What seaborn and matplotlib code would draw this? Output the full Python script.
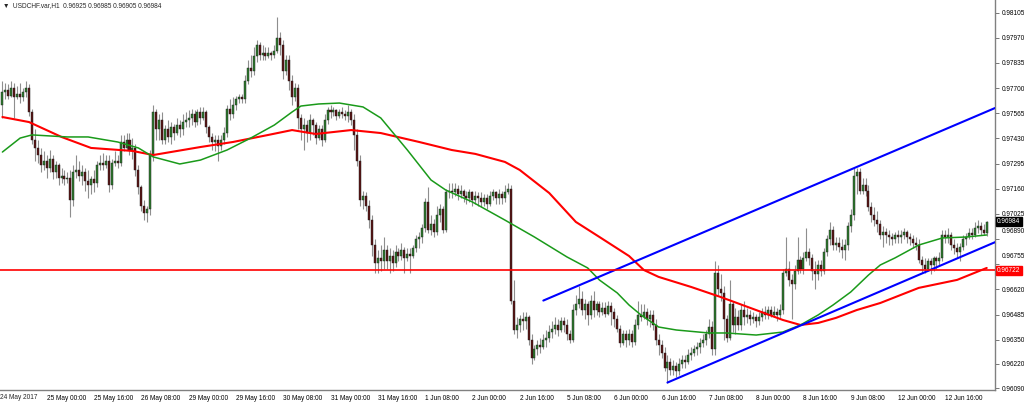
import numpy as np
import pandas as pd
import matplotlib
matplotlib.use("Agg")
import matplotlib.pyplot as plt
import matplotlib.transforms as mtransforms
import seaborn as sns

# USDCHF H1 candles, 24 May 2017 09:00 -> 13 Jun 06:00 (one entry per bar)
# prices are written in pips (price x 10 000)
open_pips = [
    9761, 9768, 9769, 9766, 9770, 9765, 9767, 9765, 9768, 9770,
    9757, 9742, 9738, 9734, 9729, 9731, 9727, 9732, 9725, 9729,
    9722, 9723, 9721, 9722, 9710, 9725, 9726, 9723, 9725, 9720,
    9718, 9721, 9719, 9729, 9730, 9729, 9731, 9718, 9730, 9731,
    9730, 9741, 9738, 9742, 9737, 9738, 9726, 9717, 9707, 9703,
    9705, 9734, 9757, 9748, 9753, 9742, 9748, 9744, 9749, 9746,
    9750, 9748, 9752, 9753, 9754, 9756, 9752, 9757, 9754, 9757,
    9749, 9744, 9741, 9742, 9739, 9742, 9746, 9759, 9756, 9761,
    9764, 9765, 9764, 9774, 9781, 9779, 9787, 9793, 9788, 9789,
    9787, 9789, 9788, 9790, 9797, 9793, 9779, 9785, 9774, 9765,
    9770, 9754, 9748, 9750, 9746, 9753, 9750, 9743, 9748, 9742,
    9753, 9758, 9757, 9758, 9755, 9757, 9756, 9755, 9757, 9753,
    9745, 9731, 9710, 9712, 9707, 9699, 9686, 9676, 9679, 9677,
    9683, 9677, 9680, 9676, 9682, 9680, 9683, 9679, 9681, 9680,
    9684, 9689, 9690, 9695, 9709, 9694, 9697, 9693, 9702, 9705,
    9694, 9714, 9715, 9714, 9716, 9713, 9715, 9712, 9711, 9714,
    9710, 9712, 9711, 9709, 9711, 9708, 9712, 9714, 9711, 9713,
    9711, 9714, 9716, 9656, 9640, 9643, 9646, 9645, 9647, 9635,
    9625, 9630, 9632, 9631, 9635, 9636, 9639, 9641, 9643, 9640,
    9645, 9643, 9638, 9635, 9651, 9654, 9657, 9651, 9654, 9648,
    9656, 9651, 9654, 9650, 9652, 9649, 9653, 9650, 9646, 9641,
    9633, 9638, 9635, 9638, 9634, 9643, 9648, 9647, 9650, 9646,
    9648, 9643, 9635, 9632, 9628, 9620, 9623, 9619, 9621, 9618,
    9622, 9624, 9623, 9627, 9628, 9630, 9631, 9633, 9635, 9638,
    9642, 9630, 9671, 9662, 9660, 9646, 9636, 9654, 9643, 9647,
    9643, 9651, 9647, 9648, 9646, 9647, 9645, 9647, 9650, 9648,
    9651, 9648, 9650, 9648, 9651, 9671, 9673, 9667, 9665, 9672,
    9678, 9673, 9679, 9682, 9679, 9672, 9670, 9675, 9672, 9682,
    9689, 9694, 9686, 9687, 9685, 9683, 9686, 9696, 9702, 9723,
    9725, 9715, 9718, 9715, 9706, 9702, 9699, 9697, 9691, 9693,
    9691, 9690, 9689, 9691, 9690, 9691, 9693, 9690, 9689, 9687,
    9686, 9678, 9675, 9673, 9677, 9675, 9679, 9677, 9679, 9691,
    9690, 9691, 9686, 9684, 9682, 9685, 9689, 9690, 9692, 9691,
    9695, 9696, 9694, 9692.5,
]
high_pips = [
    9774, 9773, 9772, 9774, 9773, 9771, 9773, 9770, 9774, 9772,
    9759, 9748, 9742, 9738, 9736, 9734, 9737, 9734, 9731, 9730,
    9727, 9726, 9725, 9726, 9729, 9734, 9731, 9729, 9727, 9726,
    9723, 9726, 9731, 9734, 9735, 9734, 9734, 9732, 9736, 9734,
    9745, 9745, 9746, 9746, 9743, 9740, 9729, 9718, 9710, 9707,
    9737, 9761, 9759, 9756, 9757, 9750, 9753, 9752, 9751, 9754,
    9753, 9756, 9757, 9758, 9759, 9758, 9759, 9760, 9760, 9758,
    9750, 9746, 9745, 9745, 9745, 9749, 9761, 9764, 9765, 9766,
    9767, 9767, 9777, 9785, 9788, 9792, 9796, 9795, 9793, 9792,
    9792, 9790, 9793, 9808, 9800, 9796, 9788, 9788, 9777, 9773,
    9772, 9756, 9754, 9753, 9756, 9754, 9752, 9750, 9750, 9756,
    9760, 9761, 9760, 9759, 9759, 9760, 9758, 9761, 9759, 9756,
    9748, 9734, 9715, 9714, 9710, 9702, 9689, 9683, 9686, 9690,
    9686, 9684, 9683, 9686, 9684, 9687, 9685, 9684, 9684, 9686,
    9691, 9693, 9697, 9711, 9717, 9702, 9700, 9707, 9708, 9707,
    9716, 9719, 9719, 9719, 9718, 9718, 9716, 9715, 9716, 9715,
    9715, 9714, 9714, 9713, 9713, 9715, 9716, 9715, 9716, 9715,
    9718, 9719, 9718, 9667, 9647, 9648, 9650, 9650, 9648, 9638,
    9632, 9635, 9636, 9638, 9640, 9643, 9645, 9647, 9646, 9647,
    9647, 9646, 9640, 9654, 9659, 9664, 9661, 9657, 9656, 9659,
    9661, 9656, 9656, 9655, 9655, 9656, 9655, 9652, 9648, 9643,
    9640, 9640, 9641, 9640, 9646, 9656, 9654, 9654, 9652, 9651,
    9651, 9646, 9638, 9635, 9631, 9627, 9625, 9624, 9623, 9625,
    9627, 9627, 9630, 9631, 9632, 9634, 9636, 9638, 9640, 9646,
    9645, 9677, 9675, 9670, 9664, 9648, 9667, 9656, 9652, 9651,
    9654, 9656, 9652, 9651, 9650, 9649, 9650, 9652, 9653, 9653,
    9653, 9653, 9652, 9654, 9673, 9690, 9677, 9670, 9675, 9690,
    9680, 9682, 9695, 9684, 9681, 9677, 9678, 9678, 9684, 9691,
    9698, 9696, 9690, 9690, 9689, 9689, 9698, 9705, 9727, 9727,
    9727, 9722, 9722, 9718, 9709, 9706, 9704, 9699, 9696, 9695,
    9694, 9692, 9693, 9694, 9694, 9695, 9694, 9692, 9691, 9690,
    9689, 9680, 9679, 9679, 9679, 9680, 9680, 9682, 9694, 9694,
    9695, 9693, 9689, 9687, 9687, 9691, 9692, 9695, 9695, 9698,
    9699, 9698, 9697, 9698.5,
]
low_pips = [
    9754, 9764, 9764, 9765, 9754, 9764, 9762, 9763, 9765, 9755,
    9740, 9731, 9730, 9725, 9726, 9722, 9725, 9721, 9722, 9718,
    9719, 9718, 9719, 9701, 9707, 9722, 9720, 9718, 9715, 9711,
    9713, 9714, 9717, 9726, 9726, 9727, 9714, 9716, 9728, 9727,
    9728, 9736, 9737, 9734, 9732, 9723, 9713, 9704, 9699, 9698,
    9702, 9731, 9742, 9742, 9740, 9740, 9741, 9740, 9742, 9745,
    9744, 9745, 9749, 9749, 9750, 9749, 9750, 9751, 9753, 9746,
    9741, 9737, 9736, 9731, 9737, 9740, 9744, 9753, 9754, 9758,
    9762, 9762, 9762, 9772, 9776, 9777, 9784, 9785, 9785, 9785,
    9786, 9785, 9786, 9789, 9788, 9775, 9777, 9769, 9761, 9763,
    9748, 9742, 9737, 9741, 9742, 9745, 9740, 9742, 9739, 9741,
    9751, 9754, 9755, 9753, 9754, 9754, 9753, 9752, 9750, 9737,
    9728, 9707, 9705, 9704, 9695, 9680, 9671, 9671, 9672, 9673,
    9673, 9671, 9672, 9674, 9677, 9678, 9671, 9677, 9671, 9679,
    9682, 9684, 9687, 9693, 9692, 9691, 9690, 9691, 9698, 9692,
    9693, 9711, 9711, 9712, 9710, 9711, 9709, 9708, 9709, 9707,
    9708, 9707, 9706, 9707, 9705, 9707, 9710, 9708, 9708, 9708,
    9709, 9713, 9654, 9638, 9636, 9639, 9640, 9641, 9632, 9622,
    9624, 9627, 9628, 9630, 9631, 9634, 9636, 9638, 9637, 9639,
    9639, 9635, 9633, 9634, 9648, 9652, 9648, 9646, 9643, 9646,
    9647, 9648, 9647, 9648, 9647, 9648, 9643, 9642, 9639, 9631,
    9632, 9631, 9632, 9631, 9632, 9641, 9645, 9646, 9643, 9642,
    9640, 9632, 9627, 9625, 9618, 9612, 9616, 9616, 9615, 9616,
    9620, 9620, 9622, 9624, 9626, 9627, 9628, 9631, 9632, 9636,
    9627, 9627, 9659, 9656, 9635, 9634, 9635, 9639, 9638, 9640,
    9640, 9643, 9644, 9643, 9644, 9642, 9643, 9645, 9646, 9646,
    9647, 9647, 9645, 9646, 9649, 9669, 9664, 9646, 9662, 9670,
    9671, 9670, 9677, 9675, 9667, 9662, 9667, 9669, 9670, 9680,
    9686, 9683, 9683, 9682, 9679, 9678, 9683, 9693, 9699, 9713,
    9713, 9713, 9712, 9704, 9698, 9696, 9693, 9689, 9685, 9687,
    9686, 9686, 9687, 9687, 9687, 9689, 9687, 9686, 9684, 9683,
    9676, 9671, 9671, 9672, 9670, 9672, 9673, 9675, 9677, 9687,
    9687, 9683, 9681, 9679, 9677, 9683, 9686, 9689, 9689, 9690,
    9692, 9691, 9691, 9690.5,
]
close_pips = [
    9768, 9769, 9766, 9770, 9765, 9767, 9765, 9768, 9770, 9757,
    9742, 9738, 9734, 9729, 9731, 9727, 9732, 9725, 9729, 9722,
    9723, 9721, 9722, 9710, 9725, 9726, 9723, 9725, 9720, 9718,
    9721, 9719, 9729, 9730, 9729, 9731, 9718, 9730, 9731, 9730,
    9741, 9738, 9742, 9737, 9738, 9726, 9717, 9707, 9703, 9705,
    9734, 9757, 9748, 9753, 9742, 9748, 9744, 9749, 9746, 9750,
    9748, 9752, 9753, 9754, 9756, 9752, 9757, 9754, 9757, 9749,
    9744, 9741, 9742, 9739, 9742, 9746, 9759, 9756, 9761, 9764,
    9765, 9764, 9774, 9781, 9779, 9787, 9793, 9788, 9789, 9787,
    9789, 9788, 9790, 9797, 9793, 9779, 9785, 9774, 9765, 9770,
    9754, 9748, 9750, 9746, 9753, 9750, 9743, 9748, 9742, 9753,
    9758, 9757, 9758, 9755, 9757, 9756, 9755, 9757, 9753, 9745,
    9731, 9710, 9712, 9707, 9699, 9686, 9676, 9679, 9677, 9683,
    9677, 9680, 9676, 9682, 9680, 9683, 9679, 9681, 9680, 9684,
    9689, 9690, 9695, 9709, 9694, 9697, 9693, 9702, 9705, 9694,
    9714, 9715, 9714, 9716, 9713, 9715, 9712, 9711, 9714, 9710,
    9712, 9711, 9709, 9711, 9708, 9712, 9714, 9711, 9713, 9711,
    9714, 9716, 9656, 9640, 9643, 9646, 9645, 9647, 9635, 9625,
    9630, 9632, 9631, 9635, 9636, 9639, 9641, 9643, 9640, 9645,
    9643, 9638, 9635, 9651, 9654, 9657, 9651, 9654, 9648, 9656,
    9651, 9654, 9650, 9652, 9649, 9653, 9650, 9646, 9641, 9633,
    9638, 9635, 9638, 9634, 9643, 9648, 9647, 9650, 9646, 9648,
    9643, 9635, 9632, 9628, 9620, 9623, 9619, 9621, 9618, 9622,
    9624, 9623, 9627, 9628, 9630, 9631, 9633, 9635, 9638, 9642,
    9630, 9671, 9662, 9660, 9646, 9636, 9654, 9643, 9647, 9643,
    9651, 9647, 9648, 9646, 9647, 9645, 9647, 9650, 9648, 9651,
    9648, 9650, 9648, 9651, 9671, 9673, 9667, 9665, 9672, 9678,
    9673, 9679, 9682, 9679, 9672, 9670, 9675, 9672, 9682, 9689,
    9694, 9686, 9687, 9685, 9683, 9686, 9696, 9702, 9723, 9725,
    9715, 9718, 9715, 9706, 9702, 9699, 9697, 9691, 9693, 9691,
    9690, 9689, 9691, 9690, 9691, 9693, 9690, 9689, 9687, 9686,
    9678, 9675, 9673, 9677, 9675, 9679, 9677, 9679, 9691, 9690,
    9691, 9686, 9684, 9682, 9685, 9689, 9690, 9692, 9691, 9695,
    9696, 9694, 9692.5, 9698.4,
]

# moving averages (bar position, price)
slow_ma_bar = [0, 9, 20, 30, 44, 51, 67, 78, 90, 98, 106, 118, 128, 141, 152, 160,
               170, 175, 185, 194, 202, 212, 217, 222, 233, 243, 255, 264, 270, 276,
               282, 289, 297, 310, 323, 333]
slow_ma = [0.97545, 0.97518, 0.97438, 0.97379, 0.97363, 0.97341, 0.97384, 0.97411,
           0.97449, 0.97475, 0.97454, 0.97475, 0.97459, 0.97411, 0.97368, 0.97347,
           0.97304, 0.97261, 0.97137, 0.96982, 0.96901, 0.96799, 0.96724, 0.96687,
           0.96633, 0.96579, 0.96509, 0.96456, 0.96429, 0.96440, 0.96467, 0.96509,
           0.96547, 0.96628, 0.96671, 0.96735]
fast_ma_bar = [0, 6, 10, 22, 29, 39, 46, 51, 60, 67, 76, 84, 92, 98, 101, 107, 114,
               122, 128, 137, 145, 150, 159, 170, 180, 191, 198, 202, 208, 212, 216,
               222, 228, 239, 245, 255, 264, 270, 276, 281, 287, 293, 297, 302, 310,
               318, 326, 333]
fast_ma = [0.97357, 0.97432, 0.97449, 0.97438, 0.97438, 0.97411, 0.97379, 0.97331,
           0.97293, 0.97314, 0.97368, 0.97432, 0.97502, 0.97572, 0.97604, 0.97615,
           0.97620, 0.97599, 0.97540, 0.97368, 0.97207, 0.97153, 0.97089, 0.96992,
           0.96901, 0.96794, 0.96735, 0.96670, 0.96601, 0.96536, 0.96483, 0.96418,
           0.96402, 0.96386, 0.96386, 0.96375, 0.96391, 0.96429, 0.96483, 0.96536,
           0.96606, 0.96697, 0.96751, 0.96789, 0.96858, 0.96896, 0.96901, 0.96912]

# channel trend lines: two anchor points each (bar, price)
upper_line = [(183, 0.9656), (288, 0.9727)]
lower_line = [(225, 0.9612), (314, 0.96725)]
level_price = 0.96722

tick_bars = [15, 31, 47, 63, 79, 95, 111, 127, 143, 159, 175, 191, 207, 223, 239,
             255, 271, 287, 303, 319]
tick_labels = ["25 May 00:00", "25 May 16:00", "26 May 08:00", "29 May 00:00",
               "29 May 16:00", "30 May 08:00", "31 May 00:00", "31 May 16:00",
               "1 Jun 08:00", "2 Jun 00:00", "2 Jun 16:00", "5 Jun 08:00",
               "6 Jun 00:00", "6 Jun 16:00", "7 Jun 08:00", "8 Jun 00:00",
               "8 Jun 16:00", "9 Jun 08:00", "12 Jun 00:00", "12 Jun 16:00"]
first_label = "24 May 2017"
price_ticks = [0.98105, 0.97970, 0.97835, 0.97700, 0.97565, 0.97430, 0.97295,
               0.97160, 0.97025, 0.96890, 0.96755, 0.96620, 0.96485, 0.96350,
               0.96220, 0.96090]

print(len(open_pips), len(high_pips), len(low_pips), len(close_pips))

df = pd.DataFrame({
    "open": np.array(open_pips) / 1e4,
    "high": np.array(high_pips) / 1e4,
    "low": np.array(low_pips) / 1e4,
    "close": np.array(close_pips) / 1e4,
})
df["bar"] = np.arange(len(df))

sns.set_style("white")
plt.rcParams["font.family"] = ["Liberation Sans", "DejaVu Sans"]
FS = 4.7

fig = plt.figure(figsize=(10.24, 4.04), dpi=100)
ax = fig.add_axes([0, 14 / 404, 995 / 1024, 390 / 404])

BULL = "#2e7d2e"
BEAR = "#5a1414"
WICK = "#8e8e8e"

# candles
ax.vlines(df["bar"], df["low"], df["high"], color=WICK, linewidth=0.8, zorder=1)
up = df["close"] >= df["open"]
body_lo = df[["open", "close"]].min(axis=1)
body_h = (df["close"] - df["open"]).abs().clip(lower=0.00002)
ax.bar(df["bar"], body_h, bottom=body_lo, width=0.68,
       color=np.where(up, BULL, BEAR), edgecolor="#1c1c1c", linewidth=0.3, zorder=2)

# moving averages
sns.lineplot(x=slow_ma_bar, y=slow_ma, color="#ff0000", linewidth=1.5, ax=ax, zorder=3)
sns.lineplot(x=fast_ma_bar, y=fast_ma, color="#1a9a1a", linewidth=1.1, ax=ax, zorder=3)

x_left, x_right = -0.81, 335.8


def ray(points, end):
    (b0, p0), (b1, p1) = points
    slope = (p1 - p0) / (b1 - b0)
    return [b0, end], [p0, p0 + slope * (end - b0)]


for pts in (upper_line, lower_line):
    xs, ys = ray(pts, x_right)
    sns.lineplot(x=xs, y=ys, color="#0000ff", linewidth=1.5, ax=ax, zorder=4)

ax.axhline(level_price, color="#ff0000", linewidth=1.2, zorder=4)

ax.set_xlim(x_left, x_right)
ax.set_ylim(0.96080, 0.98173)

for side in ("top", "left"):
    ax.spines[side].set_visible(False)
for side in ("right", "bottom"):
    ax.spines[side].set_color("#808080")
    ax.spines[side].set_linewidth(1.0)

ax.yaxis.tick_right()
ax.set_yticks(price_ticks)
ax.set_yticklabels([f"{p:.5f}" for p in price_ticks])
ax.set_xticks(tick_bars)
ax.set_xticklabels(tick_labels)
ax.tick_params(axis="both", length=3, width=0.6, color="#606060",
               labelsize=FS, labelcolor="#000000")
ax.tick_params(axis="y", pad=1.5)
ax.tick_params(axis="x", pad=0.8)
for lab in ax.get_xticklabels():
    lab.set_ha("left")

# labels that make room for the price boxes
shift = mtransforms.ScaledTranslation(0, 0.09, fig.dpi_scale_trans)
for lab in ax.get_yticklabels():
    if lab.get_text() in ("0.96890", "0.96755"):
        lab.set_transform(lab.get_transform() + shift)

fig.text(0.5 / 1024, 1 - 394 / 404, first_label, fontsize=FS, va="top", ha="left")

# price boxes on the axis
last = df.iloc[-1]
ytr = ax.get_yaxis_transform()
ax.text(1.002, last["close"], f"{last['close']:.5f}", transform=ytr, fontsize=FS,
        color="white", va="center", ha="left", zorder=6,
        bbox=dict(boxstyle="square,pad=0.2", fc="black", ec="black"))
ax.text(1.002, level_price, f"{level_price:.5f}", transform=ytr, fontsize=FS,
        color="white", va="center", ha="left", zorder=6,
        bbox=dict(boxstyle="square,pad=0.2", fc="#ff0000", ec="#ff0000"))

# chart header
header = "\u25bc  USDCHF.var,H1  {:.5f} {:.5f} {:.5f} {:.5f}".format(
    last["open"], last["high"], last["low"], last["close"])
fig.text(3 / 1024, 1 - 6 / 404, header, fontsize=FS, va="center", ha="left")

ax.set_xlabel("")
ax.set_ylabel("")
fig.savefig("out.png", dpi=100, facecolor="white")
